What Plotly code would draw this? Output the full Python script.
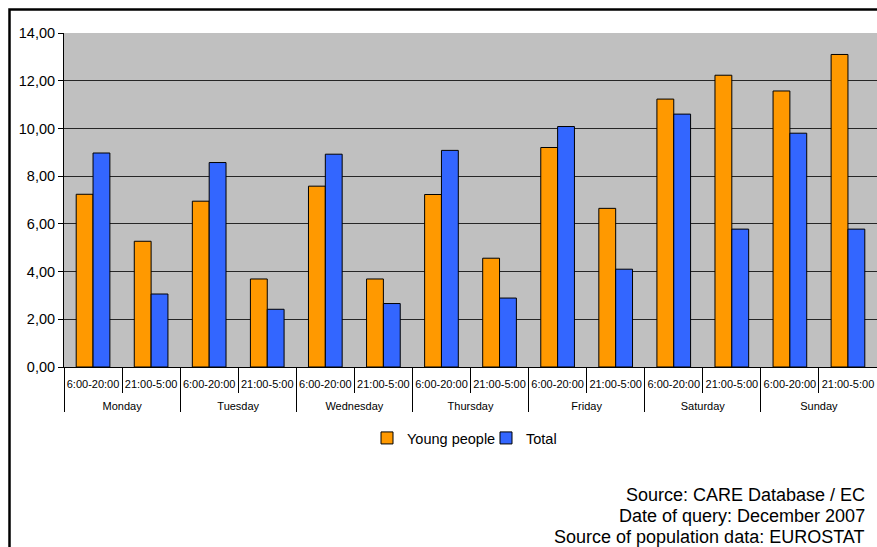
import plotly.graph_objects as go

days = ["Monday", "Tuesday", "Wednesday", "Thursday", "Friday", "Saturday", "Sunday"]
slots = ["6:00-20:00", "21:00-5:00"]
young = [7.24, 5.27, 6.95, 3.69, 7.58, 3.69, 7.23, 4.56, 9.20, 6.65, 11.23, 12.23, 11.57, 13.10]
total = [8.97, 3.06, 8.57, 2.42, 8.92, 2.66, 9.08, 2.89, 10.08, 4.10, 10.60, 5.78, 9.80, 5.78]
source_lines = ["Source: CARE Database / EC", "Date of query: December 2007",
                "Source of population data: EUROSTAT"]

# leading line break pushes the day labels down to the second label row
x_outer = ["<br>" + d for d in days for _ in slots]
x_inner = [s for _ in days for s in slots]

FONT = "Liberation Sans, Arial, sans-serif"
W, H = 877, 547
ML, MR, MT, MB = 64, 0, 33, 180
pw, ph = W - ML - MR, H - MT - MB

fig = go.Figure()
fig.add_trace(go.Bar(x=[x_outer, x_inner], y=young, name="Young people",
                     marker=dict(color="#FF9900", line=dict(color="#000000", width=1))))
fig.add_trace(go.Bar(x=[x_outer, x_inner], y=total, name="Total",
                     marker=dict(color="#3366FF", line=dict(color="#000000", width=1))))

def px_x(p):
    return (p - ML) / pw

def px_y(p):
    return (H - MB - p) / ph

# outer frame
fig.add_shape(type="rect", xref="paper", yref="paper",
              x0=px_x(9.5), x1=px_x(900), y0=px_y(9.5), y1=px_y(600),
              line=dict(color="#000000", width=2.5), fillcolor="rgba(0,0,0,0)", layer="below")

for i, line in enumerate(source_lines):
    fig.add_annotation(xref="paper", yref="paper", x=px_x(867), y=px_y(494.5 + 21 * i),
                       xanchor="right", yanchor="middle", align="right", showarrow=False,
                       text=line, font=dict(family=FONT, size=18, color="#000000"))

fig.update_layout(
    width=W, height=H,
    margin=dict(l=ML, r=MR, t=MT, b=MB),
    paper_bgcolor="#FFFFFF", plot_bgcolor="#C0C0C0",
    barmode="group", bargap=0.42, bargroupgap=0,
    separators=",.",
    font=dict(family=FONT, color="#000000"),
    legend=dict(orientation="h", x=px_x(367), xanchor="left", y=px_y(438), yanchor="middle",
                font=dict(family=FONT, size=14.5), bgcolor="rgba(0,0,0,0)",
                itemwidth=30, tracegroupgap=0, entrywidth=74),
    xaxis=dict(type="multicategory", showline=True, linecolor="#000000", linewidth=1,
               ticks="outside", tickson="boundaries", ticklen=25, tickcolor="#000000",
               ticklabelstandoff=7, tickangle=0,
               showdividers=True, dividercolor="#000000", dividerwidth=1,
               tickfont=dict(family=FONT, size=11), showgrid=False),
    yaxis=dict(range=[0, 14], dtick=2, tickformat=".2f", showline=True, linecolor="#000000",
               linewidth=1, ticks="outside", ticklen=5, tickcolor="#000000",
               gridcolor="#262626", gridwidth=1, zeroline=False,
               tickfont=dict(family=FONT, size=14.5)),
)

fig.write_html("out.html")
